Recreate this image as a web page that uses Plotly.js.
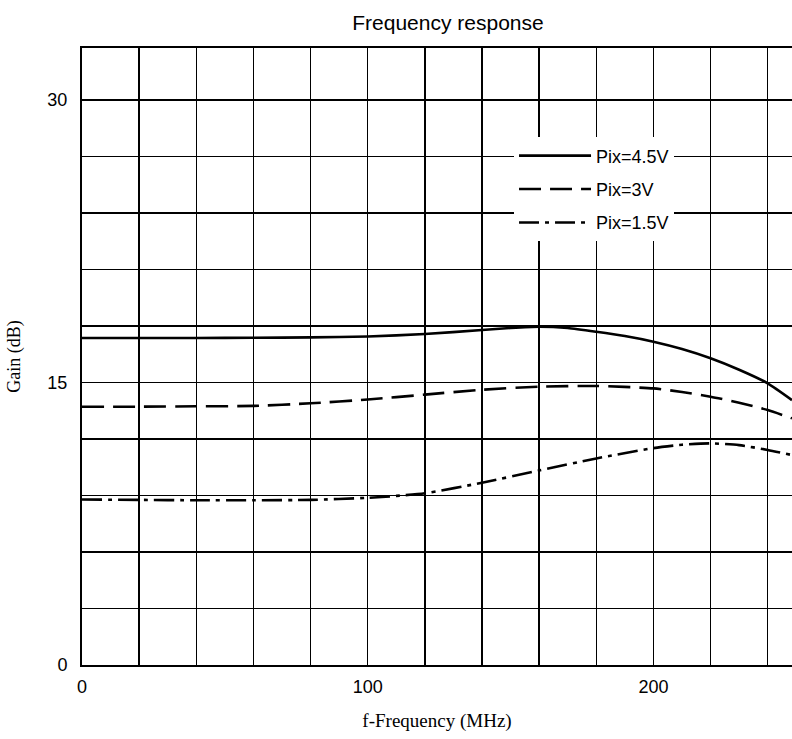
<!DOCTYPE html>
<html>
<head>
<meta charset="utf-8">
<script src="https://cdn.plot.ly/plotly-3.0.1.min.js"></script>
<style>html,body{margin:0;padding:0;background:#fff;}#chart{width:792px;height:739px;}</style>
</head>
<body>
<div id="chart"></div>
<script>
// Frequency (MHz)
const freq45 = [0, 20, 40, 60, 80, 100, 120, 140, 150, 160, 170, 180, 190, 200, 210, 220, 230, 240, 248.5];
const gain45 = [17.37, 17.37, 17.37, 17.38, 17.4, 17.45, 17.58, 17.79, 17.9, 17.97, 17.9, 17.7, 17.47, 17.17, 16.78, 16.29, 15.68, 14.96, 14.07];

const freq3 = [0, 20, 40, 60, 80, 100, 120, 140, 160, 180, 200, 210, 220, 230, 240, 248.5];
const gain3 = [13.72, 13.72, 13.74, 13.76, 13.9, 14.1, 14.36, 14.62, 14.78, 14.82, 14.69, 14.5, 14.25, 13.93, 13.54, 13.1];

const freq15 = [0, 20, 40, 60, 80, 100, 110, 120, 140, 160, 180, 200, 210, 220, 230, 240, 248.5];
const gain15 = [8.79, 8.77, 8.75, 8.75, 8.77, 8.88, 8.98, 9.12, 9.68, 10.33, 10.97, 11.52, 11.7, 11.77, 11.68, 11.42, 11.15];

const seriesNames = ["Pix=4.5V", "Pix=3V", "Pix=1.5V"];
const xTickVals = [0, 100, 200];
const yTickVals = [0, 15, 30];

const lineW = 2.6;
const traces = [
  {x: freq45, y: gain45, name: seriesNames[0], legendgroup: "a", mode: "lines",
   line: {color: "#000", width: lineW, shape: "spline", smoothing: 0.6}},
  {x: freq3, y: gain3, name: seriesNames[1], legendgroup: "b", mode: "lines",
   line: {color: "#000", width: lineW, dash: "22px,9px", shape: "spline", smoothing: 0.6}},
  {x: freq15, y: gain15, name: seriesNames[2], legendgroup: "c", mode: "lines",
   line: {color: "#000", width: lineW, dash: "20px,6px,4px,6px", shape: "spline", smoothing: 0.6}}
];

const sans = "Liberation Sans, Arial, sans-serif";
const serif = "Liberation Serif, Times New Roman, serif";

const layout = {
  width: 792, height: 739,
  margin: {l: 82, r: 0, t: 48, b: 74},
  paper_bgcolor: "#fff", plot_bgcolor: "#fff",
  showlegend: true,
  title: {text: "Frequency response", font: {family: sans, size: 21, color: "#000"},
          xref: "paper", x: 0.5155, xanchor: "center", yref: "container", y: 0.97, yanchor: "middle"},
  xaxis: {
    range: [0, 248.5], tickvals: xTickVals, ticktext: xTickVals.map(String),
    showgrid: true, gridcolor: "#000", gridwidth: 1.5,
    minor: {dtick: 20, tick0: 0, showgrid: true, gridcolor: "#000", gridwidth: 1.5, ticks: ""},
    showline: true, linecolor: "#000", linewidth: 2, mirror: true,
    zeroline: false, ticks: "", ticklen: 0, ticklabelstandoff: 4,
    tickfont: {family: sans, size: 18, color: "#000"},
    title: {text: "f-Frequency (MHz)", font: {family: serif, size: 19, color: "#000"}, standoff: 18}
  },
  yaxis: {
    range: [0, 32.77], tickvals: yTickVals, ticktext: yTickVals.map(String),
    showgrid: true, gridcolor: "#000", gridwidth: 1.5,
    minor: {dtick: 3, tick0: 0, showgrid: true, gridcolor: "#000", gridwidth: 1.5, ticks: ""},
    showline: true, linecolor: "#000", linewidth: 2, mirror: false,
    zeroline: false, ticks: "", ticklen: 0, ticklabelstandoff: 9,
    tickfont: {family: sans, size: 18, color: "#000"},
    title: {text: "Gain (dB)", font: {family: serif, size: 18, color: "#000"}, standoff: 22}
  },
  legend: {
    x: 0.6085, y: 0.855, xanchor: "left", yanchor: "top",
    bgcolor: "#fff", borderwidth: 0,
    font: {family: sans, size: 18, color: "#000"},
    traceorder: "grouped", tracegroupgap: 7, itemwidth: 72
  }
};

Plotly.newPlot("chart", traces, layout, {staticPlot: true, displayModeBar: false});
</script>
</body>
</html>
